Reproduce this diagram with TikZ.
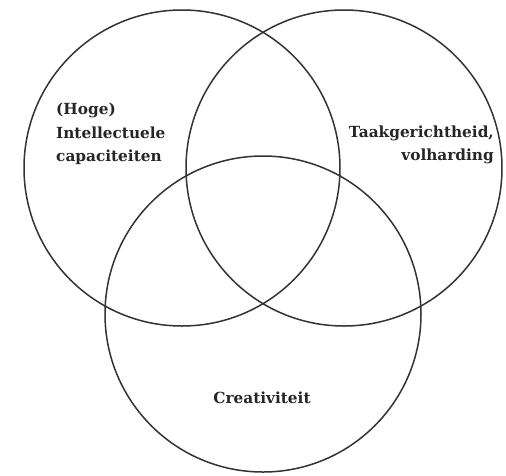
\documentclass[tikz,border=0pt]{standalone}
\usepackage{fontspec}
\usepackage{tikz}
\newfontfamily\labelfont{DejaVu Serif}
\tikzstyle{ring}=[circle, draw=black!80, line width=1.5pt, minimum size=316pt, inner sep=0pt]
\tikzstyle{tag} = [font=\labelfont\bfseries\fontsize{15.3pt}{23.5pt}\selectfont, text=black!85, inner sep=0pt]
\usepackage{xcolor}

\begin{document}
\begin{tikzpicture}[x=1pt, y=-1pt]
				\useasboundingbox[fill=white] (0,0) rectangle (506,475);

				\node[ring] (c_1) at (182, 168) {};
				\node[ring] (c_2) at (344, 168) {};
				\node[ring] (c_3) at (263, 314) {};

				\node[tag, anchor=west, align=left] (t_1) at (56, 134) {(Hoge)\\Intellectuele\\capaciteiten};
				\node[tag, anchor=east, align=right] (t_2) at (494, 145) {Taakgerichtheid,\\volharding};
				\node[tag] (t_3) at (262, 398) {Creativiteit};
\end{tikzpicture}
\end{document}
